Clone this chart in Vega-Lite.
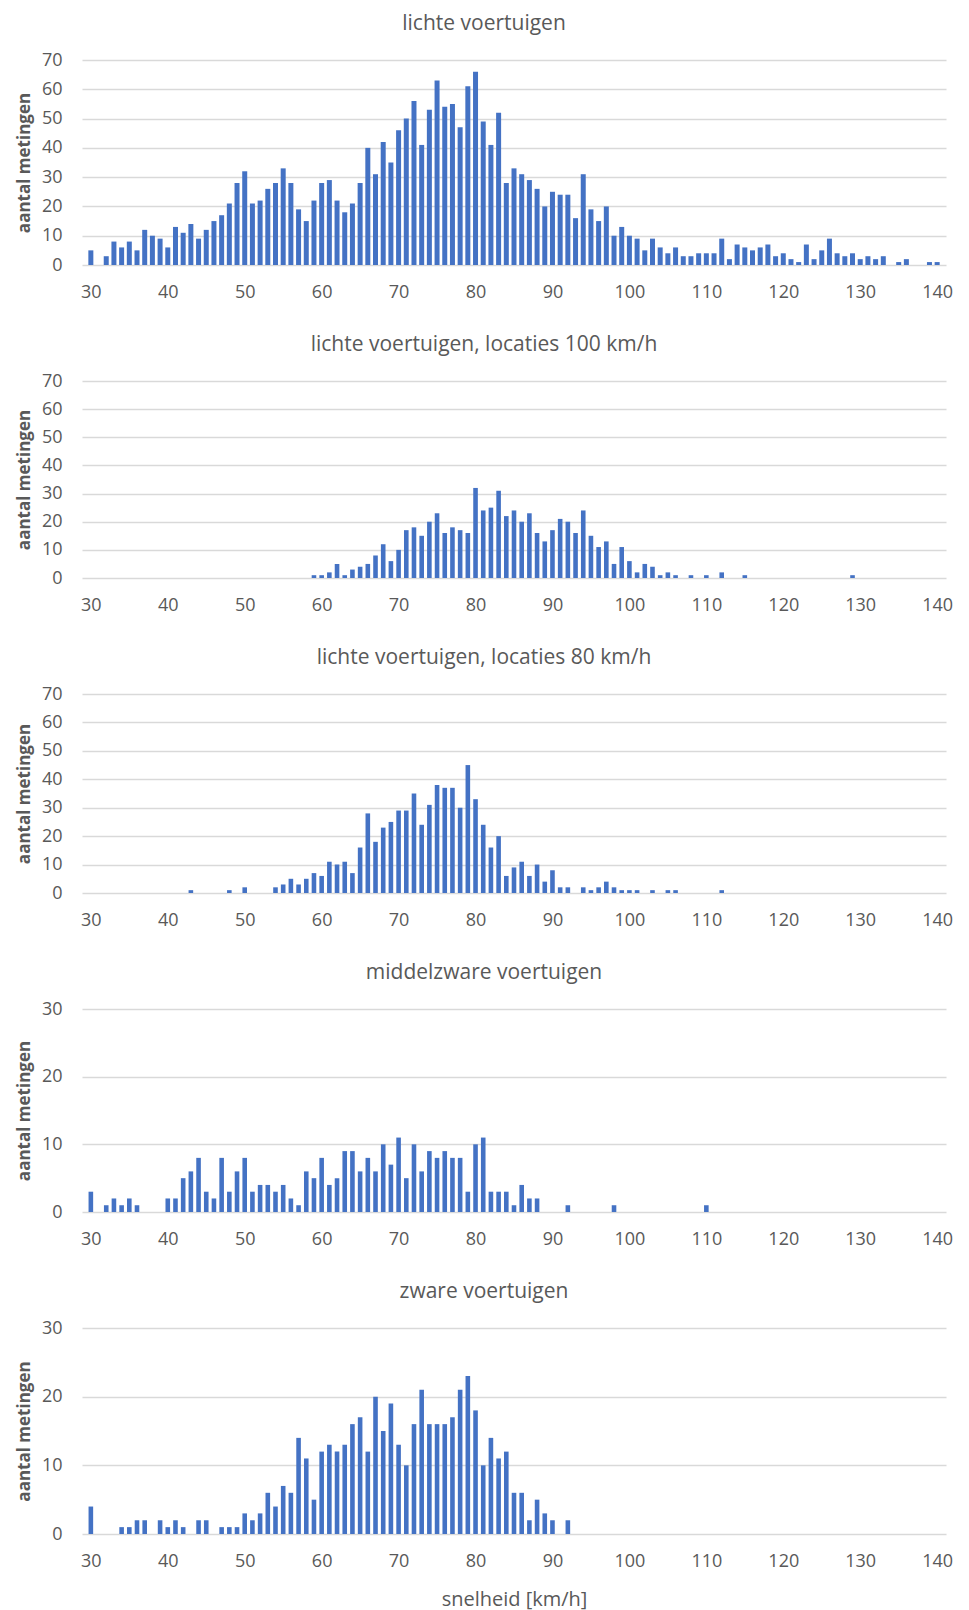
{
  "$schema": "https://vega.github.io/schema/vega-lite/v6.json",
  "padding": {"top": 13, "left": 15, "right": 5, "bottom": 5},
  "background": "white",
  "bounds": "flush",
  "spacing": 116,
  "datasets": {
    "p1": [{"snelheid":30,"aantal":5},{"snelheid":32,"aantal":3},{"snelheid":33,"aantal":8},{"snelheid":34,"aantal":6},{"snelheid":35,"aantal":8},{"snelheid":36,"aantal":5},{"snelheid":37,"aantal":12},{"snelheid":38,"aantal":10},{"snelheid":39,"aantal":9},{"snelheid":40,"aantal":6},{"snelheid":41,"aantal":13},{"snelheid":42,"aantal":11},{"snelheid":43,"aantal":14},{"snelheid":44,"aantal":9},{"snelheid":45,"aantal":12},{"snelheid":46,"aantal":15},{"snelheid":47,"aantal":17},{"snelheid":48,"aantal":21},{"snelheid":49,"aantal":28},{"snelheid":50,"aantal":32},{"snelheid":51,"aantal":21},{"snelheid":52,"aantal":22},{"snelheid":53,"aantal":26},{"snelheid":54,"aantal":28},{"snelheid":55,"aantal":33},{"snelheid":56,"aantal":28},{"snelheid":57,"aantal":19},{"snelheid":58,"aantal":15},{"snelheid":59,"aantal":22},{"snelheid":60,"aantal":28},{"snelheid":61,"aantal":29},{"snelheid":62,"aantal":22},{"snelheid":63,"aantal":18},{"snelheid":64,"aantal":21},{"snelheid":65,"aantal":28},{"snelheid":66,"aantal":40},{"snelheid":67,"aantal":31},{"snelheid":68,"aantal":42},{"snelheid":69,"aantal":35},{"snelheid":70,"aantal":46},{"snelheid":71,"aantal":50},{"snelheid":72,"aantal":56},{"snelheid":73,"aantal":41},{"snelheid":74,"aantal":53},{"snelheid":75,"aantal":63},{"snelheid":76,"aantal":54},{"snelheid":77,"aantal":55},{"snelheid":78,"aantal":47},{"snelheid":79,"aantal":61},{"snelheid":80,"aantal":66},{"snelheid":81,"aantal":49},{"snelheid":82,"aantal":41},{"snelheid":83,"aantal":52},{"snelheid":84,"aantal":28},{"snelheid":85,"aantal":33},{"snelheid":86,"aantal":31},{"snelheid":87,"aantal":29},{"snelheid":88,"aantal":26},{"snelheid":89,"aantal":20},{"snelheid":90,"aantal":25},{"snelheid":91,"aantal":24},{"snelheid":92,"aantal":24},{"snelheid":93,"aantal":16},{"snelheid":94,"aantal":31},{"snelheid":95,"aantal":19},{"snelheid":96,"aantal":15},{"snelheid":97,"aantal":20},{"snelheid":98,"aantal":10},{"snelheid":99,"aantal":13},{"snelheid":100,"aantal":10},{"snelheid":101,"aantal":9},{"snelheid":102,"aantal":5},{"snelheid":103,"aantal":9},{"snelheid":104,"aantal":6},{"snelheid":105,"aantal":4},{"snelheid":106,"aantal":6},{"snelheid":107,"aantal":3},{"snelheid":108,"aantal":3},{"snelheid":109,"aantal":4},{"snelheid":110,"aantal":4},{"snelheid":111,"aantal":4},{"snelheid":112,"aantal":9},{"snelheid":113,"aantal":2},{"snelheid":114,"aantal":7},{"snelheid":115,"aantal":6},{"snelheid":116,"aantal":5},{"snelheid":117,"aantal":6},{"snelheid":118,"aantal":7},{"snelheid":119,"aantal":3},{"snelheid":120,"aantal":4},{"snelheid":121,"aantal":2},{"snelheid":122,"aantal":1},{"snelheid":123,"aantal":7},{"snelheid":124,"aantal":2},{"snelheid":125,"aantal":5},{"snelheid":126,"aantal":9},{"snelheid":127,"aantal":4},{"snelheid":128,"aantal":3},{"snelheid":129,"aantal":4},{"snelheid":130,"aantal":2},{"snelheid":131,"aantal":3},{"snelheid":132,"aantal":2},{"snelheid":133,"aantal":3},{"snelheid":135,"aantal":1},{"snelheid":136,"aantal":2},{"snelheid":139,"aantal":1},{"snelheid":140,"aantal":1}],
    "p2": [{"snelheid":59,"aantal":1},{"snelheid":60,"aantal":1},{"snelheid":61,"aantal":2},{"snelheid":62,"aantal":5},{"snelheid":63,"aantal":1},{"snelheid":64,"aantal":3},{"snelheid":65,"aantal":4},{"snelheid":66,"aantal":5},{"snelheid":67,"aantal":8},{"snelheid":68,"aantal":12},{"snelheid":69,"aantal":6},{"snelheid":70,"aantal":10},{"snelheid":71,"aantal":17},{"snelheid":72,"aantal":18},{"snelheid":73,"aantal":15},{"snelheid":74,"aantal":20},{"snelheid":75,"aantal":23},{"snelheid":76,"aantal":16},{"snelheid":77,"aantal":18},{"snelheid":78,"aantal":17},{"snelheid":79,"aantal":16},{"snelheid":80,"aantal":32},{"snelheid":81,"aantal":24},{"snelheid":82,"aantal":25},{"snelheid":83,"aantal":31},{"snelheid":84,"aantal":22},{"snelheid":85,"aantal":24},{"snelheid":86,"aantal":20},{"snelheid":87,"aantal":23},{"snelheid":88,"aantal":16},{"snelheid":89,"aantal":13},{"snelheid":90,"aantal":17},{"snelheid":91,"aantal":21},{"snelheid":92,"aantal":20},{"snelheid":93,"aantal":16},{"snelheid":94,"aantal":24},{"snelheid":95,"aantal":15},{"snelheid":96,"aantal":11},{"snelheid":97,"aantal":13},{"snelheid":98,"aantal":5},{"snelheid":99,"aantal":11},{"snelheid":100,"aantal":6},{"snelheid":101,"aantal":2},{"snelheid":102,"aantal":5},{"snelheid":103,"aantal":4},{"snelheid":104,"aantal":1},{"snelheid":105,"aantal":2},{"snelheid":106,"aantal":1},{"snelheid":108,"aantal":1},{"snelheid":110,"aantal":1},{"snelheid":112,"aantal":2},{"snelheid":115,"aantal":1},{"snelheid":129,"aantal":1}],
    "p3": [{"snelheid":43,"aantal":1},{"snelheid":48,"aantal":1},{"snelheid":50,"aantal":2},{"snelheid":54,"aantal":2},{"snelheid":55,"aantal":3},{"snelheid":56,"aantal":5},{"snelheid":57,"aantal":3},{"snelheid":58,"aantal":5},{"snelheid":59,"aantal":7},{"snelheid":60,"aantal":6},{"snelheid":61,"aantal":11},{"snelheid":62,"aantal":10},{"snelheid":63,"aantal":11},{"snelheid":64,"aantal":7},{"snelheid":65,"aantal":16},{"snelheid":66,"aantal":28},{"snelheid":67,"aantal":18},{"snelheid":68,"aantal":23},{"snelheid":69,"aantal":25},{"snelheid":70,"aantal":29},{"snelheid":71,"aantal":29},{"snelheid":72,"aantal":35},{"snelheid":73,"aantal":24},{"snelheid":74,"aantal":31},{"snelheid":75,"aantal":38},{"snelheid":76,"aantal":37},{"snelheid":77,"aantal":37},{"snelheid":78,"aantal":30},{"snelheid":79,"aantal":45},{"snelheid":80,"aantal":33},{"snelheid":81,"aantal":24},{"snelheid":82,"aantal":16},{"snelheid":83,"aantal":20},{"snelheid":84,"aantal":6},{"snelheid":85,"aantal":9},{"snelheid":86,"aantal":11},{"snelheid":87,"aantal":6},{"snelheid":88,"aantal":10},{"snelheid":89,"aantal":4},{"snelheid":90,"aantal":8},{"snelheid":91,"aantal":2},{"snelheid":92,"aantal":2},{"snelheid":94,"aantal":2},{"snelheid":95,"aantal":1},{"snelheid":96,"aantal":2},{"snelheid":97,"aantal":4},{"snelheid":98,"aantal":2},{"snelheid":99,"aantal":1},{"snelheid":100,"aantal":1},{"snelheid":101,"aantal":1},{"snelheid":103,"aantal":1},{"snelheid":105,"aantal":1},{"snelheid":106,"aantal":1},{"snelheid":112,"aantal":1}],
    "p4": [{"snelheid":30,"aantal":3},{"snelheid":32,"aantal":1},{"snelheid":33,"aantal":2},{"snelheid":34,"aantal":1},{"snelheid":35,"aantal":2},{"snelheid":36,"aantal":1},{"snelheid":40,"aantal":2},{"snelheid":41,"aantal":2},{"snelheid":42,"aantal":5},{"snelheid":43,"aantal":6},{"snelheid":44,"aantal":8},{"snelheid":45,"aantal":3},{"snelheid":46,"aantal":2},{"snelheid":47,"aantal":8},{"snelheid":48,"aantal":3},{"snelheid":49,"aantal":6},{"snelheid":50,"aantal":8},{"snelheid":51,"aantal":3},{"snelheid":52,"aantal":4},{"snelheid":53,"aantal":4},{"snelheid":54,"aantal":3},{"snelheid":55,"aantal":4},{"snelheid":56,"aantal":2},{"snelheid":57,"aantal":1},{"snelheid":58,"aantal":6},{"snelheid":59,"aantal":5},{"snelheid":60,"aantal":8},{"snelheid":61,"aantal":4},{"snelheid":62,"aantal":5},{"snelheid":63,"aantal":9},{"snelheid":64,"aantal":9},{"snelheid":65,"aantal":6},{"snelheid":66,"aantal":8},{"snelheid":67,"aantal":6},{"snelheid":68,"aantal":10},{"snelheid":69,"aantal":7},{"snelheid":70,"aantal":11},{"snelheid":71,"aantal":5},{"snelheid":72,"aantal":10},{"snelheid":73,"aantal":6},{"snelheid":74,"aantal":9},{"snelheid":75,"aantal":8},{"snelheid":76,"aantal":9},{"snelheid":77,"aantal":8},{"snelheid":78,"aantal":8},{"snelheid":79,"aantal":3},{"snelheid":80,"aantal":10},{"snelheid":81,"aantal":11},{"snelheid":82,"aantal":3},{"snelheid":83,"aantal":3},{"snelheid":84,"aantal":3},{"snelheid":85,"aantal":1},{"snelheid":86,"aantal":4},{"snelheid":87,"aantal":2},{"snelheid":88,"aantal":2},{"snelheid":92,"aantal":1},{"snelheid":98,"aantal":1},{"snelheid":110,"aantal":1}],
    "p5": [{"snelheid":30,"aantal":4},{"snelheid":34,"aantal":1},{"snelheid":35,"aantal":1},{"snelheid":36,"aantal":2},{"snelheid":37,"aantal":2},{"snelheid":39,"aantal":2},{"snelheid":40,"aantal":1},{"snelheid":41,"aantal":2},{"snelheid":42,"aantal":1},{"snelheid":44,"aantal":2},{"snelheid":45,"aantal":2},{"snelheid":47,"aantal":1},{"snelheid":48,"aantal":1},{"snelheid":49,"aantal":1},{"snelheid":50,"aantal":3},{"snelheid":51,"aantal":2},{"snelheid":52,"aantal":3},{"snelheid":53,"aantal":6},{"snelheid":54,"aantal":4},{"snelheid":55,"aantal":7},{"snelheid":56,"aantal":6},{"snelheid":57,"aantal":14},{"snelheid":58,"aantal":11},{"snelheid":59,"aantal":5},{"snelheid":60,"aantal":12},{"snelheid":61,"aantal":13},{"snelheid":62,"aantal":12},{"snelheid":63,"aantal":13},{"snelheid":64,"aantal":16},{"snelheid":65,"aantal":17},{"snelheid":66,"aantal":12},{"snelheid":67,"aantal":20},{"snelheid":68,"aantal":15},{"snelheid":69,"aantal":19},{"snelheid":70,"aantal":13},{"snelheid":71,"aantal":10},{"snelheid":72,"aantal":16},{"snelheid":73,"aantal":21},{"snelheid":74,"aantal":16},{"snelheid":75,"aantal":16},{"snelheid":76,"aantal":16},{"snelheid":77,"aantal":17},{"snelheid":78,"aantal":21},{"snelheid":79,"aantal":23},{"snelheid":80,"aantal":18},{"snelheid":81,"aantal":10},{"snelheid":82,"aantal":14},{"snelheid":83,"aantal":11},{"snelheid":84,"aantal":12},{"snelheid":85,"aantal":6},{"snelheid":86,"aantal":6},{"snelheid":87,"aantal":2},{"snelheid":88,"aantal":5},{"snelheid":89,"aantal":3},{"snelheid":90,"aantal":2},{"snelheid":92,"aantal":2}]
  },
  "vconcat": [
    {
      "title": "lichte voertuigen",
      "width": 864, "height": 205,
      "data": {"name": "p1"},
      "mark": {"type": "bar", "color": "#4472C4", "size": 5},
      "encoding": {
        "x": {"field": "snelheid", "type": "quantitative", "scale": {"domain": [29.5, 140.5], "nice": false, "zero": false},
              "axis": {"values": [30,40,50,60,70,80,90,100,110,120,130,140], "title": null}},
        "y": {"field": "aantal", "type": "quantitative", "scale": {"domain": [0, 70], "nice": false},
              "axis": {"values": [0,10,20,30,40,50,60,70], "title": "aantal metingen"}}
      }
    },
    {
      "title": "lichte voertuigen, locaties 100 km/h",
      "width": 864, "height": 197,
      "data": {"name": "p2"},
      "mark": {"type": "bar", "color": "#4472C4", "size": 4.6},
      "encoding": {
        "x": {"field": "snelheid", "type": "quantitative", "scale": {"domain": [29.5, 140.5], "nice": false, "zero": false},
              "axis": {"values": [30,40,50,60,70,80,90,100,110,120,130,140], "title": null}},
        "y": {"field": "aantal", "type": "quantitative", "scale": {"domain": [0, 70], "nice": false},
              "axis": {"values": [0,10,20,30,40,50,60,70], "title": "aantal metingen"}}
      }
    },
    {
      "title": "lichte voertuigen, locaties 80 km/h",
      "width": 864, "height": 199,
      "data": {"name": "p3"},
      "mark": {"type": "bar", "color": "#4472C4", "size": 4.6},
      "encoding": {
        "x": {"field": "snelheid", "type": "quantitative", "scale": {"domain": [29.5, 140.5], "nice": false, "zero": false},
              "axis": {"values": [30,40,50,60,70,80,90,100,110,120,130,140], "title": null}},
        "y": {"field": "aantal", "type": "quantitative", "scale": {"domain": [0, 70], "nice": false},
              "axis": {"values": [0,10,20,30,40,50,60,70], "title": "aantal metingen"}}
      }
    },
    {
      "title": "middelzware voertuigen",
      "width": 864, "height": 203,
      "data": {"name": "p4"},
      "mark": {"type": "bar", "color": "#4472C4", "size": 4.6},
      "encoding": {
        "x": {"field": "snelheid", "type": "quantitative", "scale": {"domain": [29.5, 140.5], "nice": false, "zero": false},
              "axis": {"values": [30,40,50,60,70,80,90,100,110,120,130,140], "title": null}},
        "y": {"field": "aantal", "type": "quantitative", "scale": {"domain": [0, 30], "nice": false},
              "axis": {"values": [0,10,20,30], "title": "aantal metingen"}}
      }
    },
    {
      "title": "zware voertuigen",
      "width": 864, "height": 206,
      "data": {"name": "p5"},
      "mark": {"type": "bar", "color": "#4472C4", "size": 4.6},
      "encoding": {
        "x": {"field": "snelheid", "type": "quantitative", "scale": {"domain": [29.5, 140.5], "nice": false, "zero": false},
              "axis": {"values": [30,40,50,60,70,80,90,100,110,120,130,140], "title": "snelheid [km/h]"}},
        "y": {"field": "aantal", "type": "quantitative", "scale": {"domain": [0, 30], "nice": false},
              "axis": {"values": [0,10,20,30], "title": "aantal metingen"}}
      }
    }
  ],
  "config": {
    "view": {"stroke": null},
    "font": "Open Sans",
    "title": {"font": "Open Sans", "fontSize": 21, "fontWeight": "normal", "color": "#595959", "offset": 17, "anchor": "middle", "frame": "bounds"},
    "axis": {
      "labelFont": "Open Sans", "labelFontSize": 18, "labelColor": "#595959",
      "titleFont": "Open Sans", "titleColor": "#595959",
      "ticks": false, "domain": false, "labelFlush": false, "labelOverlap": false, "labelBound": false
    },
    "axisX": {"grid": false, "labelPadding": 18, "titleFontSize": 20, "titleFontWeight": "normal", "titlePadding": 19},
    "axisY": {"grid": true, "gridColor": "#D9D9D9", "gridWidth": 1.3, "labelPadding": 20, "titleFontSize": 17, "titleFontWeight": "bold", "titlePadding": 8}
  }
}
